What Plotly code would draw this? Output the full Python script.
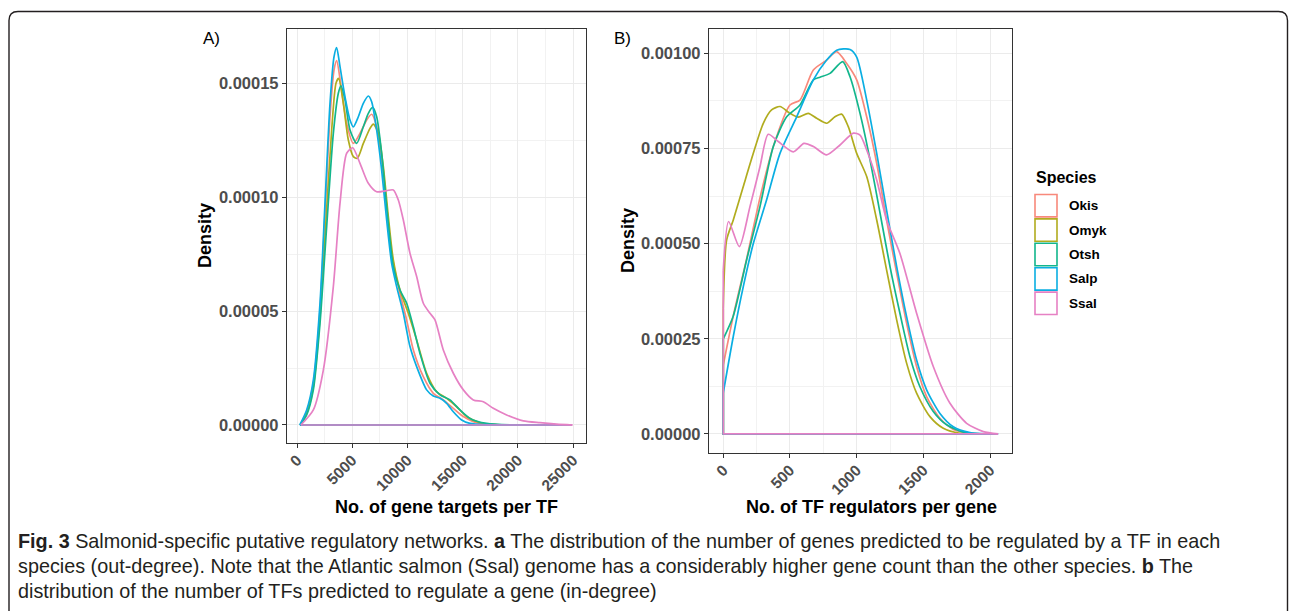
import plotly.graph_objects as go

W, H = 1290, 611

SPECIES = ["Okis", "Omyk", "Otsh", "Salp", "Ssal"]
COLORS = ["#F8897B", "#B1AC1E", "#12B68C", "#0AAEE2", "#E681C4"]

# ---------- Panel A: out-degree (x: gene targets per TF, y: density in 1e-5 units)
A_X = {
    "Okis": [300, 876, 1479, 2083, 2536, 2989, 3351, 3593, 3955, 4498, 5102, 5706, 6310, 6763, 7216, 7668, 8121, 8574, 9178, 9933, 10537, 11442, 12348, 13253, 14159, 15065, 15971, 17178, 19000, 23500],
    "Omyk": [300, 876, 1479, 2083, 2627, 3140, 3532, 3774, 4196, 4649, 5102, 5465, 6008, 6612, 6914, 7367, 7819, 8272, 8725, 9329, 10083, 10838, 11744, 12650, 13555, 14461, 15367, 16575, 18500, 23000],
    "Otsh": [300, 876, 1479, 2083, 2687, 3291, 3744, 3985, 4347, 4800, 5404, 6008, 6461, 6853, 7216, 7668, 8121, 8725, 9329, 9933, 10537, 11140, 12046, 12952, 13857, 14763, 15669, 17178, 19500, 24000],
    "Salp": [250, 876, 1479, 2083, 2536, 2989, 3351, 3593, 3895, 4347, 4800, 5102, 5555, 6008, 6461, 6763, 7216, 7668, 8121, 8574, 9027, 9631, 10235, 10838, 11744, 12348, 12952, 13555, 14159, 14914, 15669, 17178, 20000, 24900],
    "Ssal": [350, 1479, 2385, 3291, 3895, 4498, 5042, 5706, 6461, 7216, 8121, 8725, 9178, 9631, 10235, 10838, 11442, 12046, 12499, 13253, 14159, 15065, 15971, 16876, 17782, 18990, 20499, 22009, 23518, 24950],
}
A_Y_E5 = {
    "Okis": [0, 0.58, 1.83, 5.04, 9.28, 13.52, 15.57, 15.98, 14.99, 13.23, 12.35, 12.79, 13.38, 13.63, 13.08, 11.62, 9.58, 7.53, 6.07, 4.6, 3.29, 2.12, 1.39, 1.1, 0.73, 0.37, 0.15, 0.04, 0, 0],
    "Omyk": [0, 0.51, 1.68, 4.75, 8.99, 12.94, 14.99, 15.2, 14.11, 12.5, 11.77, 11.7, 12.35, 13.01, 13.2, 12.79, 11.33, 9.14, 7.24, 5.92, 4.9, 3.73, 2.27, 1.46, 1.17, 0.8, 0.37, 0.1, 0, 0],
    "Otsh": [0, 0.44, 1.54, 4.46, 8.7, 12.79, 14.55, 14.88, 14.26, 12.94, 12.35, 13.08, 13.67, 13.93, 13.52, 11.92, 9.58, 6.94, 5.92, 5.34, 4.31, 3.14, 1.83, 1.32, 1.1, 0.66, 0.29, 0.07, 0, 0],
    "Salp": [0, 0.66, 1.97, 5.34, 9.72, 14.1, 16.15, 16.55, 15.72, 14.4, 13.38, 13.08, 13.52, 14.11, 14.43, 14.18, 12.94, 11.18, 8.99, 7.09, 6.07, 4.9, 3.44, 2.56, 1.54, 1.27, 1.17, 0.95, 0.58, 0.22, 0.07, 0.015, 0, 0],
    "Ssal": [0, 0.66, 2.41, 6.07, 9.72, 11.92, 12.16, 11.48, 10.6, 10.23, 10.28, 10.31, 9.87, 8.99, 7.53, 6.51, 5.34, 4.9, 4.61, 3.29, 2.27, 1.54, 1.1, 1.02, 0.73, 0.44, 0.18, 0.1, 0.04, 0],
}

# ---------- Panel B: in-degree (x: TF regulators per gene, y: density in 1e-4 units)
B_X = {
    "Okis": [0, 75, 175, 275, 375, 500, 575, 675, 775, 850, 925, 1000, 1075, 1150, 1224, 1300, 1374, 1449, 1524, 1624, 1724, 1849, 1950, 2040],
    "Omyk": [0, 25, 75, 150, 225, 300, 362, 425, 500, 562, 637, 700, 775, 837, 887, 937, 1000, 1075, 1150, 1224, 1300, 1374, 1449, 1549, 1649, 1774, 1900],
    "Otsh": [0, 75, 175, 275, 375, 475, 575, 675, 725, 800, 895, 950, 1025, 1100, 1175, 1250, 1324, 1399, 1474, 1574, 1674, 1799, 1924, 2050],
    "Salp": [0, 75, 150, 225, 325, 425, 550, 675, 775, 850, 950, 1000, 1075, 1150, 1224, 1300, 1374, 1449, 1524, 1624, 1724, 1849, 1974, 2060],
    "Ssal": [0, 40, 120, 200, 275, 337, 412, 525, 605, 675, 775, 875, 975, 1025, 1075, 1150, 1224, 1324, 1449, 1574, 1699, 1824, 1949, 2060],
}
B_Y_E4 = {
    "Okis": [1.81, 3.1, 4.6, 6.2, 7.55, 8.64, 8.77, 9.56, 9.82, 10.04, 9.73, 9.3, 8.33, 7.11, 5.62, 4.22, 2.91, 1.77, 0.98, 0.41, 0.12, 0.02, 0, 0],
    "Omyk": [3.3, 5.09, 5.62, 6.5, 7.37, 8.16, 8.51, 8.6, 8.42, 8.32, 8.42, 8.29, 8.16, 8.33, 8.4, 8.07, 7.37, 6.76, 5.62, 4.31, 2.99, 1.86, 1.07, 0.455, 0.149, 0.018, 0],
    "Otsh": [2.5, 3.1, 4.57, 5.97, 7.55, 8.33, 8.64, 9.3, 9.37, 9.47, 9.78, 9.38, 8.42, 7.2, 5.8, 4.39, 3.17, 2.03, 1.24, 0.59, 0.24, 0.05, 0, 0],
    "Salp": [1.08, 2.56, 3.87, 5.0, 6.15, 7.37, 8.33, 9.3, 9.82, 10.08, 10.1, 9.9, 8.77, 7.37, 5.88, 4.39, 3.08, 1.94, 1.16, 0.54, 0.19, 0.035, 0, 0],
    "Ssal": [4.3, 5.58, 4.92, 5.97, 7.02, 7.87, 7.68, 7.41, 7.63, 7.55, 7.33, 7.59, 7.9, 7.85, 7.46, 6.67, 5.62, 4.74, 3.17, 1.77, 0.805, 0.28, 0.061, 0],
}

A_XTICKS = [0, 5000, 10000, 15000, 20000, 25000]
A_YTICKS = [0, 0.00005, 0.0001, 0.00015]
B_XTICKS = [0, 500, 1000, 1500, 2000]
B_YTICKS = [0, 0.00025, 0.0005, 0.00075, 0.001]

CAPTION = [
    "<b>Fig. 3</b> Salmonid-specific putative regulatory networks. <b>a</b> The distribution of the number of genes predicted to be regulated by a TF in each",
    "species (out-degree). Note that the Atlantic salmon (Ssal) genome has a considerably higher gene count than the other species. <b>b</b> The",
    "distribution of the number of TFs predicted to regulate a gene (in-degree)",
]


def PX(x):
    return x / W


def PY(y):
    return 1 - y / H


fig = go.Figure()

for panel, XD, YD, unit, xa, ya in [("A", A_X, A_Y_E5, 1e-5, "x", "y"), ("B", B_X, B_Y_E4, 1e-4, "x2", "y2")]:
    for sp, col in zip(SPECIES, COLORS):
        xs = XD[sp]
        ys = [v * unit for v in YD[sp]]
        # baseline + left edge of the density outline
        fig.add_trace(go.Scatter(x=[xs[-1], xs[0], xs[0]], y=[0, 0, ys[0]], mode="lines",
                                 line=dict(color=col, width=1.7), xaxis=xa, yaxis=ya,
                                 showlegend=False, hoverinfo="skip"))
        fig.add_trace(go.Scatter(x=xs, y=ys, mode="lines", name=sp,
                                 line=dict(color=col, width=1.7, shape="spline", smoothing=0.7),
                                 xaxis=xa, yaxis=ya, showlegend=False))

ytickfont = dict(family="Liberation Sans", size=16.5, color="#4D4D4D", weight="bold")
xtickfont = dict(family="Liberation Sans", size=15.5, color="#4D4D4D", weight="bold")
common = dict(showline=True, mirror=True, linecolor="#333333", linewidth=1.3,
              ticks="outside", ticklen=4, tickwidth=1.1, tickcolor="#333333",
              showgrid=True, gridcolor="#EBEBEB", gridwidth=1.1, zeroline=False,
              automargin=False)

fig.update_layout(
    template="none",
    width=W, height=H, autosize=False,
    margin=dict(l=0, r=0, t=0, b=0, pad=0),
    paper_bgcolor="white", plot_bgcolor="white",
    showlegend=False,
    xaxis=dict(domain=[PX(287), PX(586)], range=[-906, 26178], tickvals=A_XTICKS,
               ticktext=[str(v) for v in A_XTICKS], tickangle=-45, anchor="y",
               tickfont=xtickfont, ticklabelstandoff=-3,
               minor=dict(dtick=2500, tick0=0, showgrid=True, gridcolor="#F2F2F2", gridwidth=0.6), **common),
    yaxis=dict(domain=[PY(443), PY(29)], range=[-0.0000079, 0.0001737], tickvals=A_YTICKS,
               tickformat=".5f", anchor="x", tickfont=ytickfont,
               minor=dict(dtick=0.000025, tick0=0, showgrid=True, gridcolor="#F2F2F2", gridwidth=0.6), **common),
    xaxis2=dict(domain=[PX(709), PX(1012)], range=[-107, 2164], tickvals=B_XTICKS,
                ticktext=[str(v) for v in B_XTICKS], tickangle=-45, anchor="y2",
                tickfont=xtickfont, ticklabelstandoff=-3,
                minor=dict(dtick=250, tick0=0, showgrid=True, gridcolor="#F2F2F2", gridwidth=0.6), **common),
    yaxis2=dict(domain=[PY(453), PY(29)], range=[-0.00005, 0.0010636], tickvals=B_YTICKS,
                tickformat=".5f", anchor="x2", tickfont=ytickfont,
                minor=dict(dtick=0.000125, tick0=0, showgrid=True, gridcolor="#F2F2F2", gridwidth=0.6), **common),
)

ann = []
title_font = dict(family="Liberation Sans", size=18, color="black", weight="bold")
ann.append(dict(x=PX(446), y=PY(507), xref="paper", yref="paper", text="No. of gene targets per TF",
                showarrow=False, font=title_font, xanchor="center", yanchor="middle"))
ann.append(dict(x=PX(871), y=PY(507), xref="paper", yref="paper", text="No. of TF regulators per gene",
                showarrow=False, font=title_font, xanchor="center", yanchor="middle"))
ann.append(dict(x=PX(205), y=PY(236), xref="paper", yref="paper", text="Density", textangle=-90,
                showarrow=False, font=title_font, xanchor="center", yanchor="middle"))
ann.append(dict(x=PX(628), y=PY(241), xref="paper", yref="paper", text="Density", textangle=-90,
                showarrow=False, font=title_font, xanchor="center", yanchor="middle"))
panel_font = dict(family="Liberation Sans", size=17, color="black")
ann.append(dict(x=PX(201), y=PY(39), xref="paper", yref="paper", text="A)", showarrow=False,
                font=panel_font, xanchor="left", yanchor="middle"))
ann.append(dict(x=PX(612), y=PY(39), xref="paper", yref="paper", text="B)", showarrow=False,
                font=panel_font, xanchor="left", yanchor="middle"))

# legend (drawn)
ann.append(dict(x=PX(1034), y=PY(177), xref="paper", yref="paper", text="Species", showarrow=False,
                font=dict(family="Liberation Sans", size=16, color="black", weight="bold"),
                xanchor="left", yanchor="middle"))
shapes = []
key_top = 193.5
key_h = 24.4
for i, (sp, col) in enumerate(zip(SPECIES, COLORS)):
    t = key_top + i * key_h
    shapes.append(dict(type="rect", xref="paper", yref="paper", x0=PX(1035), x1=PX(1057),
                       y0=PY(t + 1), y1=PY(t + key_h - 1), line=dict(color=col, width=1.6),
                       fillcolor="white"))
    ann.append(dict(x=PX(1067), y=PY(t + key_h / 2), xref="paper", yref="paper", text=sp,
                    showarrow=False, font=dict(family="Liberation Sans", size=13.5, color="black", weight="bold"),
                    xanchor="left", yanchor="middle"))

# caption
for i, line in enumerate(CAPTION):
    ann.append(dict(x=PX(16), y=PY(541 + 25 * i), xref="paper", yref="paper", text=line, showarrow=False,
                    font=dict(family="Liberation Sans", size=19.8, color="#231F20"),
                    xanchor="left", yanchor="middle"))

# rounded frame
x0, y0, x1, yb, r = 9, 11.5, 1287.5, 640, 9
path = (f"M {PX(x0)},{PY(yb)} L {PX(x0)},{PY(y0 + r)} Q {PX(x0)},{PY(y0)} {PX(x0 + r)},{PY(y0)} "
        f"L {PX(x1 - r)},{PY(y0)} Q {PX(x1)},{PY(y0)} {PX(x1)},{PY(y0 + r)} L {PX(x1)},{PY(yb)}")
shapes.append(dict(type="path", xref="paper", yref="paper", path=path,
                   line=dict(color="#231F20", width=1.4)))

fig.update_layout(annotations=ann, shapes=shapes)
fig.write_html("out.html")
